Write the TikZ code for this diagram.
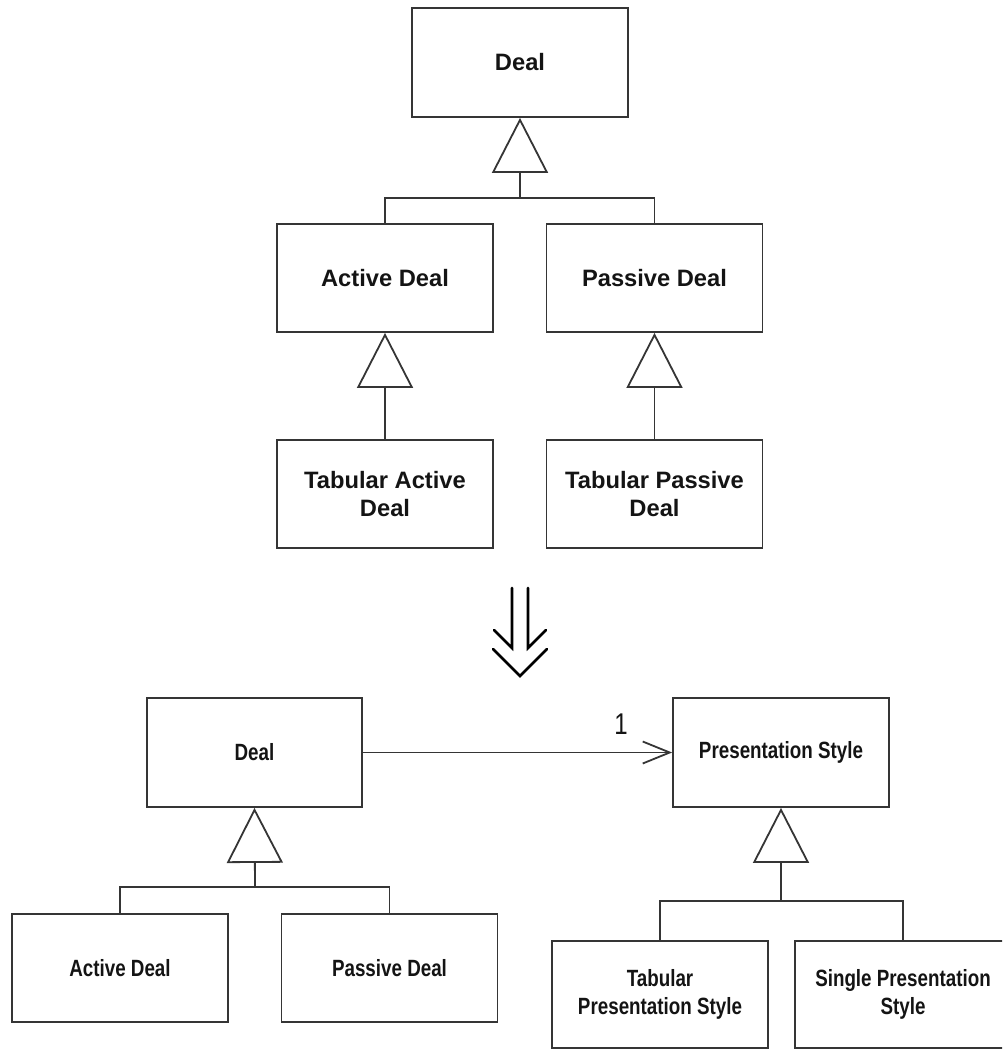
\documentclass[tikz,border=0pt]{standalone}
\usepackage{fontspec}
\setmainfont{Liberation Sans}
\newfontfamily\topfont{Liberation Sans}
\newfontfamily\lowfont{Liberation Sans}[FakeStretch=0.8]
\usetikzlibrary{arrows.meta}
\definecolor{edge}{HTML}{353535}
\definecolor{ink}{HTML}{141414}
\begin{document}
\begin{tikzpicture}[x=1pt,y=-1pt,
  classbox/.style={draw=edge, line width=1.8pt, minimum width=216pt, minimum height=108pt,
    inner sep=0pt, align=center, text=ink},
  topbox/.style={classbox, font=\topfont\bfseries\fontsize{23.7}{28.5}\selectfont},
  lowbox/.style={classbox, font=\lowfont\bfseries\fontsize{23.5}{28.5}\selectfont},
  link/.style={draw=edge, line width=1.8pt},
  gen/.style={link, -{Triangle[open, length=55pt, width=56pt, line width=1.8pt, fill=white]}},
  assoc/.style={link, -{Straight Barb[length=27pt, width=22pt, line width=1.8pt]}},
  bigarrow/.style={draw=black, line width=2.6pt, line cap=round, line join=miter}
]
\useasboundingbox (0,0) rectangle (1002,1049);
\clip (0,0) rectangle (1002,1049);

% ---------- top hierarchy ----------
\node[topbox, minimum height=109pt] (deal) at (520,62.5) {Deal};
\node[topbox] (ad) at (385,278) {Active Deal};
\node[topbox] (pd) at (654.5,278) {Passive Deal};
\node[topbox] (tad) at (385,494) {Tabular Active\\Deal};
\node[topbox] (tpd) at (654.5,494) {Tabular Passive\\Deal};

\coordinate (bar1) at (520,198);
\draw[link] (ad.north) |- (bar1);
\draw[link] (pd.north) |- (bar1);
\draw[gen] (bar1) -- (deal.south);
\draw[gen, line width=2.6pt] (tad.north) -- (ad.south);
\draw[gen] (tpd.north) -- (pd.south);

% ---------- transformation arrow ----------
\draw[bigarrow] (512,588) -- (512,648) -- (494,630);
\draw[bigarrow] (528,588) -- (528,648) -- (546,630);
\draw[bigarrow] (493,649) -- (520,676) -- (547,649);

% ---------- bottom model ----------
\node[lowbox, minimum width=215pt, minimum height=109pt] (deal2) at (254.5,752.5) {Deal};
\node[lowbox, minimum height=109pt] (ps) at (781,752.5) {Presentation Style};
\node[lowbox] (ad2) at (120,968) {Active Deal};
\node[lowbox] (pd2) at (389.5,968) {Passive Deal};
\node[lowbox, minimum height=107pt] (tps) at (660,994.5) {Tabular\\Presentation Style};
\node[lowbox, minimum width=216pt, minimum height=107pt] (sps) at (903,994.5) {Single Presentation\\Style};

\draw[assoc] (deal2.east) -- node[pos=0.835, above=14pt, font=\lowfont\fontsize{30}{32}\selectfont, text=ink] (mult) {1} (ps.west);

\coordinate (bar2) at (255,887);
\draw[link] (ad2.north) |- (bar2);
\draw[link] (pd2.north) |- (bar2);
\draw[gen] (bar2) -- (deal2.south);

\coordinate (bar3) at (781,901);
\draw[link] (tps.north) |- (bar3);
\draw[link] (sps.north) |- (bar3);
\draw[gen] (bar3) -- (ps.south);
\end{tikzpicture}
\end{document}
